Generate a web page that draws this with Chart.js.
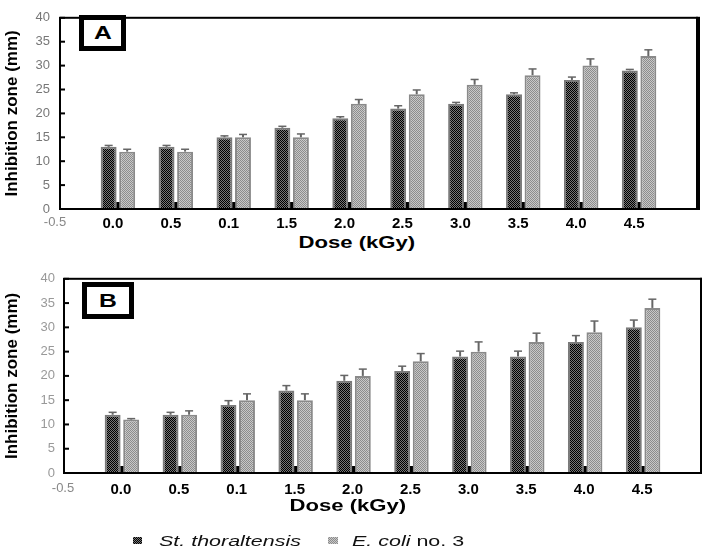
<!DOCTYPE html>
<html lang="en">
<head>
<meta charset="UTF-8">
<title>Inhibition zone vs dose</title>
<script src="https://cdn.jsdelivr.net/npm/chart.js@4"></script>
<style>
  body { margin: 0; background: #fff; font-family: 'Liberation Sans', Arial, sans-serif; }
  #wrap { position: relative; width: 709px; height: 550px; overflow: hidden; }
  canvas { position: absolute; left: 0; }
  .tag { position: absolute; box-sizing: border-box; border: 5px solid #000; background: #fff;
         display: flex; align-items: center; justify-content: center; font-weight: bold; font-size: 19px; }
  .tag span, .dose span { display: inline-block; transform: scaleX(1.3); }
  .dose { position: absolute; width: 200px; margin-left: -100px; text-align: center;
          font-weight: bold; font-size: 17px; line-height: 17px; }
  .sw { position: absolute; top: 537px; width: 9px; height: 7px; }
  .sw.dark { background: repeating-conic-gradient(#000 0 25%, #777 0 50%) 0 0 / 2px 2px; }
  .sw.light { background: repeating-conic-gradient(#8c8c8c 0 25%, #c8c8c8 0 50%) 0 0 / 2px 2px; }
  .lg { position: absolute; top: 533px; font-size: 15px; line-height: 15px; color: #111;
        white-space: nowrap; transform-origin: left center; transform: scaleX(1.43); }
</style>
</head>
<body>
<div id="wrap">
  <canvas id="chartA" width="709" height="232" style="top:0"></canvas>
  <canvas id="chartB" width="709" height="238" style="top:262px"></canvas>

  <div class="tag" style="left:79px;top:15px;width:47px;height:36px"><span>A</span></div>
  <div class="tag" style="left:82px;top:282px;width:52px;height:37px"><span>B</span></div>

  <div class="dose" style="left:357px;top:234px"><span>Dose (kGy)</span></div>
  <div class="dose" style="left:348px;top:497px"><span>Dose (kGy)</span></div>

  <span class="sw dark" style="left:133px"></span>
  <span class="lg" style="left:159px"><i>St. thoraltensis</i></span>
  <span class="sw light" style="left:328px;width:10px"></span>
  <span class="lg" style="left:352px"><i>E. coli</i> no. 3</span>
</div>

<script>
  // dose categories as printed on the axis (the third one really reads 0.1)
  const doses = ['0.0', '0.5', '0.1', '1.5', '2.0', '2.5', '3.0', '3.5', '4.0', '4.5']

  // panel A
  const aStrep = [13, 13, 15, 17, 19, 21, 22, 24, 27, 29]
  const aStrepErr = [0.3, 0.3, 0.3, 0.3, 0.3, 0.6, 0.3, 0.3, 0.6, 0.2]
  const aEcoli = [12, 12, 15, 15, 22, 24, 26, 28, 30, 32]
  const aEcoliErr = [0.5, 0.5, 0.6, 0.7, 0.9, 0.9, 1.1, 1.3, 1.4, 1.3]

  // panel B
  const bStrep = [12, 12, 14, 17, 19, 21, 24, 24, 27, 30]
  const bStrepErr = [0.5, 0.5, 0.9, 1.0, 1.1, 1.0, 1.1, 1.1, 1.3, 1.5]
  const bEcoli = [11, 12, 15, 15, 20, 23, 25, 27, 29, 34]
  const bEcoliErr = [0.2, 0.8, 1.3, 1.3, 1.4, 1.6, 2.0, 1.8, 2.3, 1.8]

  const yMin = 0
  const yMax = 40
  const yStep = 5

  const family = "'Liberation Sans', Arial, sans-serif"

  function makePattern(a, b) {
    const c = document.createElement('canvas')
    c.width = 2
    c.height = 2
    const g = c.getContext('2d')
    g.fillStyle = a
    g.fillRect(0, 0, 2, 2)
    g.fillStyle = b
    g.fillRect(0, 0, 1, 1)
    g.fillRect(1, 1, 1, 1)
    return g.createPattern(c, 'repeat')
  }

  const darkFill = makePattern('#777', '#000')
  const lightFill = makePattern('#c8c8c8', '#8c8c8c')

  const errorBars = {
    id: 'errorBars',
    afterDatasetsDraw(chart) {
      const { ctx } = chart
      const y = chart.scales.y
      chart.data.datasets.forEach((ds, di) => {
        const meta = chart.getDatasetMeta(di)
        meta.data.forEach((bar, i) => {
          const v = ds.data[i]
          const e = ds.errors[i]
          if (v == null || !e) return
          const top = y.getPixelForValue(v + e)
          ctx.save()
          ctx.strokeStyle = '#666'
          ctx.lineWidth = 2
          ctx.beginPath()
          ctx.moveTo(bar.x, bar.y)
          ctx.lineTo(bar.x, top)
          ctx.stroke()
          ctx.lineWidth = 1.5
          ctx.beginPath()
          ctx.moveTo(bar.x - 4, top)
          ctx.lineTo(bar.x + 4, top)
          ctx.stroke()
          ctx.restore()
        })
      })
    }
  }

  const frame = {
    id: 'frame',
    afterDraw(chart, args, opts) {
      const { ctx, chartArea: a } = chart
      const x = chart.scales.x
      const y = chart.scales.y
      ctx.save()
      ctx.strokeStyle = '#000'
      ctx.lineWidth = 2
      ctx.strokeRect(a.left, a.top, a.right - a.left, a.bottom - a.top)
      ctx.fillStyle = '#000'
      ctx.fillRect(a.right - 1, a.top - 1, opts.rightWidth, a.bottom - a.top + 2)
      // inward ticks on the value axis
      for (let v = yMin; v <= yMax; v += yStep) {
        const py = y.getPixelForValue(v)
        ctx.fillRect(a.left, py - 1, 5, 2)
      }
      // small marks at the foot of every dose group
      for (let i = 1; i <= doses.length; i++) {
        const px = x.getPixelForValue(i)
        ctx.fillRect(px - 1.5, a.bottom - 7, 3, 7)
      }
      ctx.restore()
    }
  }

  function buildChart(id, strep, strepErr, ecoli, ecoliErr, geo) {
    const labels = ['-0.5', ...doses, '']
    const pad = arr => [null, ...arr, null]

    return new Chart(document.getElementById(id), {
      type: 'bar',
      data: {
        labels,
        datasets: [{
          label: 'St. thoraltensis',
          data: pad(strep),
          errors: pad(strepErr),
          backgroundColor: darkFill,
          borderColor: '#7a7a7a',
          borderWidth: 2,
          categoryPercentage: 0.64,
          barPercentage: 0.86
        }, {
          label: 'E. coli no. 3',
          data: pad(ecoli),
          errors: pad(ecoliErr),
          backgroundColor: lightFill,
          borderColor: '#8a8a8a',
          borderWidth: 2,
          categoryPercentage: 0.64,
          barPercentage: 0.86
        }]
      },
      options: {
        responsive: false,
        animation: false,
        devicePixelRatio: 1,
        layout: { padding: { top: geo.top, right: geo.right, left: 0, bottom: 0 } },
        plugins: {
          legend: { display: false },
          tooltip: { enabled: false },
          frame: { rightWidth: geo.rightWidth }
        },
        scales: {
          x: {
            offset: false,
            grid: { display: false, drawTicks: false },
            border: { display: false },
            ticks: {
              autoSkip: false,
              maxRotation: 0,
              padding: geo.xPad,
              labelOffset: geo.labelShift,
              color: c => c.index === 0 ? '#888' : '#000',
              font: c => c.index === 0
                ? { size: 13, family }
                : { size: 15, weight: 'bold', family }
            },
            afterFit: s => { s.height = geo.xHeight }
          },
          y: {
            min: yMin,
            max: yMax,
            grid: { display: false, drawTicks: false },
            border: { display: false },
            ticks: { stepSize: yStep, padding: geo.yPad, color: geo.yColor, font: { size: 13, family } },
            title: {
              display: true,
              text: 'Inhibition zone (mm)',
              color: '#000',
              font: { size: 17, weight: 'bold', family },
              padding: { top: 2, bottom: 0 }
            },
            afterFit: s => { s.width = geo.yWidth }
          }
        }
      },
      plugins: [errorBars, frame]
    })
  }

  buildChart('chartA', aStrep, aStrepErr, aEcoli, aEcoliErr, {
    top: 6, right: 12, yWidth: 60, xHeight: 23, xPad: 6, yPad: 10,
    labelShift: -5, yColor: '#777', rightWidth: 4
  })

  buildChart('chartB', bStrep, bStrepErr, bEcoli, bEcoliErr, {
    top: 12, right: 2, yWidth: 64, xHeight: 27, xPad: 8, yPad: 9,
    labelShift: -1, yColor: '#999', rightWidth: 2
  })
</script>
</body>
</html>
